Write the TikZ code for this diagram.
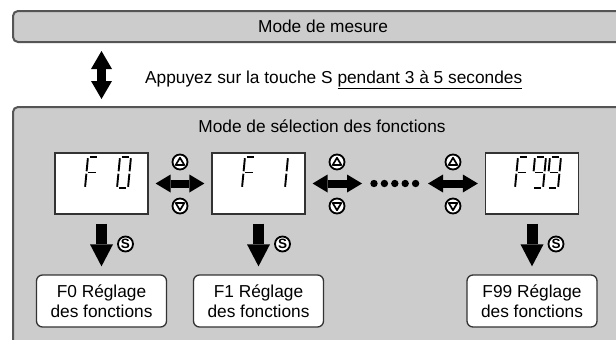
\documentclass[tikz,border=0pt]{standalone}
\usepackage{fontspec}
\setmainfont{Liberation Sans}
\usetikzlibrary{arrows.meta}
\definecolor{panelfill}{RGB}{204,204,204}
\definecolor{panelline}{RGB}{85,85,85}
\definecolor{boxline}{RGB}{51,51,51}
% seven-segment digit segments (origin = top-left of the slanted cell)
\newcommand\segA[1]{\draw[segline] (4.8,0) -- (1.2+#1,0);}
\newcommand\segB[1]{\draw[segline] (2.88+#1,1.24) -- (1.62+#1,14.26);}
\newcommand\segC[1]{\draw[segline] (1.38+#1,16.74) -- (0.12+#1,29.76);}
\newcommand\segD[1]{\draw[segline] (1.8,31) -- (#1-1.8,31);}
\newcommand\segE[1]{\draw[segline] (1.38,16.74) -- (0.12,29.76);}
\newcommand\segF[1]{\draw[segline] (2.88,1.24) -- (1.62,14.26);}
\newcommand\segG[1]{\draw[segline] (3.3,15.5) -- (#1-0.3,15.5);}
\newcommand\sevseg[4]{\begin{scope}[shift={(#1,#2)}]\foreach \q in {#4}{\csname seg\q\endcsname{#3}}\end{scope}}
\begin{document}
\begin{tikzpicture}[x=1pt,y=-1pt,
  every node/.style={font=\fontsize{17.3}{19.5}\selectfont},
  panel/.style={draw=panelline, fill=panelfill, line width=2pt, rounded corners=5pt, inner sep=0pt, anchor=north west},
  disp/.style={draw=boxline, fill=white, line width=1.3pt, minimum width=93pt, minimum height=61pt, inner sep=0pt},
  result/.style={draw=boxline, fill=white, line width=1.3pt, rounded corners=6pt, minimum width=130pt, minimum height=52pt, inner sep=0pt, align=center},
  segline/.style={line width=1.9pt, black, line cap=butt},
  keyicon/.style={circle, draw=black, fill=white, line width=1.8pt, minimum size=15pt, inner sep=0pt},
  upicon/.style={keyicon, path picture={\draw[line width=1.7pt, line join=round]
      ([yshift=4.2pt]path picture bounding box.center) -- ([xshift=-4.3pt,yshift=-3pt]path picture bounding box.center)
      -- ([xshift=4.3pt,yshift=-3pt]path picture bounding box.center) -- cycle;}},
  downicon/.style={keyicon, path picture={\draw[line width=1.7pt, line join=round]
      ([yshift=-4.2pt]path picture bounding box.center) -- ([xshift=-4.3pt,yshift=3pt]path picture bounding box.center)
      -- ([xshift=4.3pt,yshift=3pt]path picture bounding box.center) -- cycle;}},
  sicon/.style={keyicon, font=\fontsize{13.5}{13.5}\selectfont\bfseries},
  harrow/.style={line width=8pt, {Triangle[width=18pt,length=15pt,line width=0pt]}-{Triangle[width=18pt,length=15pt,line width=0pt]}},
  varrow/.style={line width=8.5pt, {Triangle[width=21pt,length=18pt,line width=0pt]}-{Triangle[width=21pt,length=18pt,line width=0pt]}},
  darrow/.style={line width=11pt, -{Triangle[width=23pt,length=22pt,line width=0pt]}},
  bigdot/.style={fill=black}
]
\clip (0,0) rectangle (616,340);
\fill[white] (0,0) rectangle (616,340);

% panels
\node[panel, minimum width=620pt, minimum height=31pt] (mesure) at (12,10) {Mode de mesure};
\node[panel, minimum width=620pt, minimum height=260pt] (sel) at (12,106) {};
\node[anchor=base, inner sep=0pt] (seltitle) at (322,132) {Mode de sélection des fonctions};

% instruction
\node[anchor=base west, inner sep=0pt] (instr) at (145,83) {Appuyez sur la touche S \underline{pendant 3 à 5 secondes}};

% displays
\node[disp] (d0) at (101.5,183.5) {};
\node[disp] (d1) at (258.5,183.5) {};
\node[disp] (d99) at (532,183.5) {};

\sevseg{85}{157}{11}{A,E,F,G}
\sevseg{117}{157}{11}{A,B,C,D,E,F}
\sevseg{242}{157}{11}{A,E,F,G}
\sevseg{274}{157}{11}{B,C}
\sevseg{515}{157}{11}{A,E,F,G}
\sevseg{532}{157}{11}{A,B,C,D,F,G}
\sevseg{547}{157}{11}{A,B,C,D,F,G}

% results
\node[result] (r0) at (101.5,301) {F0 Réglage\\des fonctions};
\node[result] (r1) at (258.5,301) {F1 Réglage\\des fonctions};
\node[result] (r99) at (532,301) {F99 Réglage\\des fonctions};

% vertical double arrow between modes
\draw[varrow, shorten <=8pt, shorten >=7pt] (mesure.south -| d0.center) -- (sel.north -| d0.center);

% horizontal arrows
\coordinate (dotsL) at (362,183.5);
\coordinate (dotsR) at (428,183.5);
\draw[harrow, shorten <=7pt, shorten >=7pt] (d0.east) -- (d1.west);
\draw[harrow, shorten <=7pt] (d1.east) -- (dotsL);
\draw[harrow, shorten >=7pt] (dotsR) -- (d99.west);
\foreach \i in {0,...,4} {\fill[bigdot] (374+10.4*\i,183.5) circle (3.7pt);}

% up/down icons
\node[upicon] (u1) at (180,162) {};
\node[downicon] (w1) at (180,206) {};
\node[upicon] (u2) at (337,162) {};
\node[downicon] (w2) at (337,206) {};
\node[upicon] (u3) at (453,162) {};
\node[downicon] (w3) at (453,206) {};

% down arrows
\draw[darrow, shorten <=9pt, shorten >=8pt] (d0.south) -- (r0.north);
\draw[darrow, shorten <=9pt, shorten >=8pt] (d1.south) -- (r1.north);
\draw[darrow, shorten <=9pt, shorten >=8pt] (d99.south) -- (r99.north);

\node[sicon] (s0) at (125.5,244) {S};
\node[sicon] (s1) at (282.5,244) {S};
\node[sicon] (s99) at (556,244) {S};
\end{tikzpicture}
\end{document}
